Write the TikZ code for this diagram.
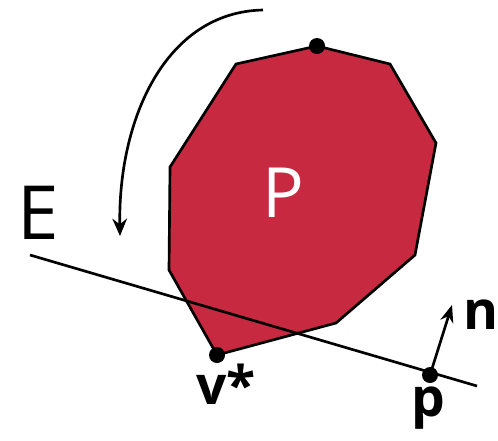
\documentclass[tikz,border=0pt]{standalone}
\usepackage{fontspec}
\setmainfont{Open Sans}
\usetikzlibrary{arrows.meta}
\definecolor{polyred}{RGB}{198,41,64}
\tikzset{
  dot/.style={circle,fill=black,inner sep=0pt,minimum size=12pt},
  lbl/.style={inner sep=0pt,font=\fontsize{40}{44}\selectfont\bfseries},
}
\begin{document}
\begin{tikzpicture}[x=0.75pt,y=-0.75pt,line width=2pt]
    \useasboundingbox (0,0) rectangle (498,440);
    % Polygon corners
    \coordinate (c1) at (317,46);
    \coordinate (c2) at (390,64);
    \coordinate (c3) at (436,143);
    \coordinate (c4) at (415,255);
    \coordinate (c5) at (336,323);
    \coordinate (c6) at (217,355);
    \coordinate (c7) at (169,270);
    \coordinate (c8) at (170,167);
    \coordinate (c9) at (236,64);
    \filldraw[fill=polyred,line join=miter] (c1) -- (c2) -- (c3) -- (c4) -- (c5)
        -- (c6) -- (c7) -- (c8) -- (c9) -- cycle;
    \node[text=white,font=\fontsize{52}{56}\selectfont] (P) at (283,193) {P};
    % Plane E
    \coordinate (e1) at (30,255);
    \coordinate (e2) at (477,386);
    \draw (e1) -- (e2);
    \node[font=\fontsize{56}{60}\selectfont,inner sep=0pt] (E) at (38,213) {E};
    % Points
    \node[dot] (top) at (c1) {};
    \node[dot] (vstar) at (c6) {};
    \node[dot] (p) at (430,375) {};
    \node[lbl] (vlab) at (226,384) {v*};
    \node[lbl] (plab) at (428,408) {p};
    % Normal
    \coordinate (ntip) at (452,305);
    \draw[-{Stealth[length=13pt,width=10pt]}] (p.center) -- (ntip);
    \node[lbl] (nlab) at (481,315) {n};
    % Rotation
    \coordinate (r1) at (263,10);
    \coordinate (r2) at (120,236);
    \draw[-{Stealth[length=13pt,width=11pt]}] (r1) .. controls (165,12) and (118,120) .. (r2);
\end{tikzpicture}
\end{document}
